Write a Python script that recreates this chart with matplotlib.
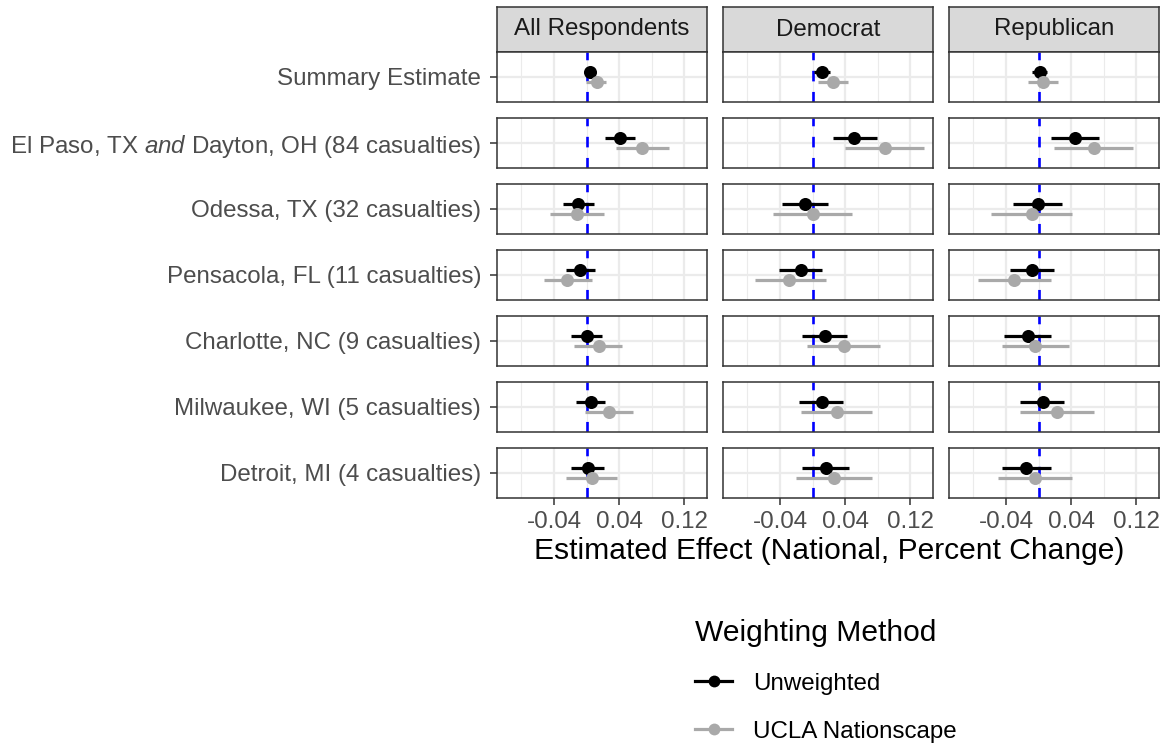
import matplotlib
matplotlib.use("Agg")
import matplotlib.pyplot as plt
from matplotlib.lines import Line2D

plt.rcParams['font.family'] = ['Liberation Sans', 'DejaVu Sans']
plt.rcParams['mathtext.fontset'] = 'custom'
plt.rcParams['mathtext.rm'] = 'Liberation Sans'
plt.rcParams['mathtext.it'] = 'Liberation Sans:italic'

facets = ["All Respondents", "Democrat", "Republican"]
events = [
    "Summary Estimate",
    r"El Paso, TX $\it{and}$ Dayton, OH (84 casualties)",
    "Odessa, TX (32 casualties)",
    "Pensacola, FL (11 casualties)",
    "Charlotte, NC (9 casualties)",
    "Milwaukee, WI (5 casualties)",
    "Detroit, MI (4 casualties)",
]
methods = ["Unweighted", "UCLA Nationscape"]
xticks = [-0.04, 0.04, 0.12]
xtick_labels = ["-0.04", "0.04", "0.12"]

# All Respondents
all_unw_est = [0.0045, 0.0415, -0.0103, -0.0078, 0.0000, 0.0049, 0.0012]
all_unw_lo = [0.0010, 0.0230, -0.0290, -0.0250, -0.0193, -0.0131, -0.0185]
all_unw_hi = [0.0080, 0.0600, 0.0094, 0.0099, 0.0189, 0.0226, 0.0209]
all_ucla_est = [0.0127, 0.0686, -0.0119, -0.0234, 0.0152, 0.0275, 0.0062]
all_ucla_lo = [-0.0006, 0.0357, -0.0447, -0.0525, -0.0148, -0.0025, -0.0250]
all_ucla_hi = [0.0245, 0.1010, 0.0218, 0.0062, 0.0439, 0.0571, 0.0370]

# Democrat
dem_unw_est = [0.0111, 0.0513, -0.0094, -0.0144, 0.0148, 0.0111, 0.0160]
dem_unw_lo = [0.0020, 0.0246, -0.0378, -0.0406, -0.0135, -0.0164, -0.0127]
dem_unw_hi = [0.0218, 0.0788, 0.0185, 0.0111, 0.0423, 0.0374, 0.0452]
dem_ucla_est = [0.0246, 0.0887, 0.0004, -0.0283, 0.0386, 0.0300, 0.0259]
dem_ucla_lo = [0.0062, 0.0402, -0.0480, -0.0710, -0.0070, -0.0144, -0.0197]
dem_ucla_hi = [0.0431, 0.1370, 0.0489, 0.0160, 0.0833, 0.0731, 0.0727]

# Republican
rep_unw_est = [0.0016, 0.0447, -0.0012, -0.0082, -0.0135, 0.0049, -0.0156]
rep_unw_lo = [-0.0080, 0.0148, -0.0316, -0.0345, -0.0427, -0.0222, -0.0451]
rep_unw_hi = [0.0110, 0.0739, 0.0283, 0.0185, 0.0156, 0.0316, 0.0148]
rep_ucla_est = [0.0057, 0.0677, -0.0086, -0.0300, -0.0045, 0.0230, -0.0041]
rep_ucla_lo = [-0.0127, 0.0185, -0.0587, -0.0739, -0.0455, -0.0222, -0.0500]
rep_ucla_hi = [0.0242, 0.1160, 0.0414, 0.0148, 0.0378, 0.0677, 0.0414]

data = {
    "All Respondents": [(all_unw_est, all_unw_lo, all_unw_hi), (all_ucla_est, all_ucla_lo, all_ucla_hi)],
    "Democrat": [(dem_unw_est, dem_unw_lo, dem_unw_hi), (dem_ucla_est, dem_ucla_lo, dem_ucla_hi)],
    "Republican": [(rep_unw_est, rep_unw_lo, rep_unw_hi), (rep_ucla_est, rep_ucla_lo, rep_ucla_hi)],
}

colors = ["#000000", "#A9A9A9"]
offsets = [0.12, -0.12]

W, H = 1168, 745
fig = plt.figure(figsize=(W / 100, H / 100), dpi=100)
fig.patch.set_facecolor("white")

col_x = [497, 723, 949]
col_w = 210
row_top0 = 52
row_h = 50
row_step = 66
strip_top = 7

BASE = 17.4
TITLE = 21.6
XLIM = (-0.110, 0.148)

def px_rect(x, y_top, w, h):
    return [x / W, 1 - (y_top + h) / H, w / W, h / H]

for j, facet in enumerate(facets):
    sax = fig.add_axes(px_rect(col_x[j], strip_top, col_w, row_top0 - strip_top))
    sax.set_facecolor("#D9D9D9")
    sax.set_xticks([]); sax.set_yticks([])
    for sp in sax.spines.values():
        sp.set_color("#333333"); sp.set_linewidth(1.1)
    sax.text(0.5, 0.5, facet, ha="center", va="center", fontsize=BASE,
             color="#1A1A1A", transform=sax.transAxes)
    for i, ev in enumerate(events):
        ax = fig.add_axes(px_rect(col_x[j], row_top0 + i * row_step, col_w, row_h))
        ax.set_xlim(*XLIM)
        ax.set_ylim(-0.6, 0.6)
        for gx in [-0.08, 0.0, 0.08]:
            ax.axvline(gx, color="#EBEBEB", lw=0.8, zorder=0)
        for gx in xticks:
            ax.axvline(gx, color="#EBEBEB", lw=1.6, zorder=0)
        ax.axhline(0, color="#EBEBEB", lw=1.6, zorder=0)
        ax.axvline(0, color="#0000FF", lw=1.9, ls=(0, (4, 4)), zorder=1)
        for k in range(2):
            est, lo, hi = data[facet][k]
            y = offsets[k]
            ax.plot([lo[i], hi[i]], [y, y], color=colors[k], lw=2.3,
                    solid_capstyle="butt", zorder=2 + k)
            ax.plot([est[i]], [y], "o", color=colors[k], ms=9.4,
                    markeredgewidth=0, zorder=2 + k)
        for sp in ax.spines.values():
            sp.set_color("#333333"); sp.set_linewidth(1.1)
        ax.set_facecolor("white")
        if j == 0:
            ax.set_yticks([0])
            ax.set_yticklabels([ev], fontsize=BASE, color="#4D4D4D")
            ax.tick_params(axis="y", length=5, width=1.1, color="#333333", pad=6.5)
        else:
            ax.set_yticks([])
        if i == len(events) - 1:
            ax.set_xticks(xticks)
            ax.set_xticklabels(xtick_labels, fontsize=BASE, color="#4D4D4D")
            ax.tick_params(axis="x", length=5, width=1.1, color="#333333", pad=4.5)
        else:
            ax.set_xticks([])

fig.text(829 / W, 1 - 551 / H, "Estimated Effect (National, Percent Change)",
         ha="center", va="center", fontsize=TITLE, color="black")

handles = [Line2D([0], [0], color=colors[k], lw=2.3, marker="o", ms=8.5,
                  markeredgewidth=0) for k in range(2)]
leg = fig.legend(handles, methods, loc="upper left",
                 bbox_to_anchor=(695 / W, 1 - 619 / H), frameon=False,
                 fontsize=BASE, title="Weighting Method", title_fontsize=TITLE,
                 handlelength=1.55, handletextpad=0.85, labelspacing=1.07,
                 alignment="left", borderaxespad=0, borderpad=0)

fig.savefig("out.png", dpi=100, facecolor="white")
